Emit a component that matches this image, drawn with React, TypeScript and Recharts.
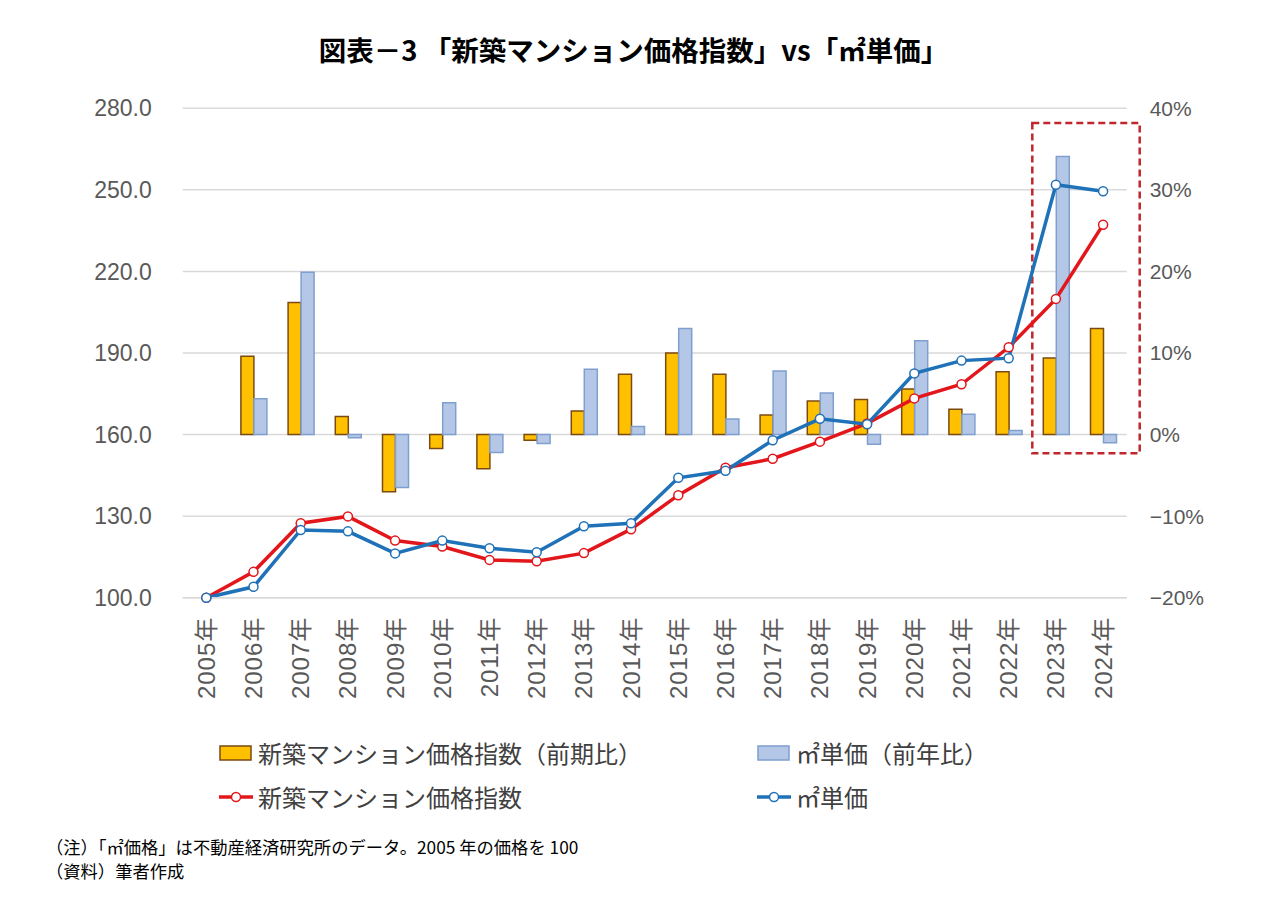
import {
  ComposedChart,
  Bar,
  Line,
  XAxis,
  YAxis,
  CartesianGrid,
  ReferenceArea,
} from "recharts";

// ===== data =====
const years = [
  "2005年", "2006年", "2007年", "2008年", "2009年", "2010年", "2011年",
  "2012年", "2013年", "2014年", "2015年", "2016年", "2017年", "2018年",
  "2019年", "2020年", "2021年", "2022年", "2023年", "2024年",
];

// 新築マンション価格指数 (2005 = 100)
const shinchikuIndex = [
  100, 109.5, 127.4, 129.9, 121.0, 118.8, 113.9, 113.4, 116.4, 125.2,
  137.7, 147.8, 151.1, 157.4, 164.1, 173.3, 178.5, 192.1, 209.9, 237.2,
];

// ㎡単価 (2005 = 100)
const m2Index = [
  100, 104.0, 124.9, 124.4, 116.3, 121.0, 118.2, 116.7, 126.3, 127.4,
  144.1, 146.7, 157.9, 165.8, 163.8, 182.5, 187.2, 188.1, 251.9, 249.5,
];

// 前期比 / 前年比 (%)
const shinchikuYoY = [
  null, 9.6, 16.2, 2.2, -7.0, -1.7, -4.2, -0.7, 2.9, 7.4,
  10.0, 7.4, 2.4, 4.1, 4.3, 5.6, 3.1, 7.7, 9.4, 13.0,
];
const m2YoY = [
  null, 4.4, 19.9, -0.4, -6.5, 3.9, -2.2, -1.1, 8.0, 1.0,
  13.0, 1.9, 7.8, 5.1, -1.2, 11.5, 2.5, 0.5, 34.1, -1.0,
];

const leftTicks = [100, 130, 160, 190, 220, 250, 280];
const rightTicks = [-20, -10, 0, 10, 20, 30, 40];

// highlighted range (2023-2024)
const boxYears = ["2023年", "2024年"];
const boxRange = [-2.3, 38.2];

// ===== styles =====
const YELLOW = "#FFC000";
const YELLOW_EDGE = "#7B4A12";
const LIGHT_BLUE = "#B4C7E7";
const LIGHT_BLUE_EDGE = "#7F9FCF";
const RED = "#E3161B";
const BLUE = "#1F71B8";
const AXIS_TEXT = "#595959";
const NUM_FONT = "'Liberation Sans', 'Noto Sans CJK JP', sans-serif";
const JP_FONT = "'Noto Sans CJK JP', 'Liberation Sans', sans-serif";

const data = years.map((year, i) => ({
  year,
  shinchiku: shinchikuIndex[i],
  m2: m2Index[i],
  shinchikuYoY: shinchikuYoY[i],
  m2YoY: m2YoY[i],
}));

const XTick = ({ x, y, payload }: any) => (
  <text
    x={x}
    y={y}
    transform={`rotate(-90 ${x} ${y})`}
    textAnchor="end"
    dominantBaseline="central"
    fill={AXIS_TEXT}
    fontSize={24}
    letterSpacing={1}
    fontFamily={NUM_FONT}
  >
    {payload.value}
  </text>
);

const fmtPct = (v: number) => (v < 0 ? `−${Math.abs(v)}%` : `${v}%`);

const DashedBox = (p: any) => (
  <rect
    x={p.x}
    y={p.y}
    width={p.width + 13}
    height={p.height}
    fill="none"
    stroke="#C0262B"
    strokeWidth={2.5}
    strokeDasharray="7 4"
  />
);

const LineIcon = ({ color }: { color: string }) => (
  <svg width={36} height={16} style={{ verticalAlign: "middle" }}>
    <line x1={1} y1={8} x2={35} y2={8} stroke={color} strokeWidth={3.5} />
    <circle cx={18} cy={8} r={4.5} fill="#fff" stroke={color} strokeWidth={1.5} />
  </svg>
);

const BoxIcon = ({ fill, edge }: { fill: string; edge: string }) => (
  <svg width={36} height={18} style={{ verticalAlign: "middle" }}>
    <rect x={2} y={2} width={31} height={14} fill={fill} stroke={edge} strokeWidth={1.5} />
  </svg>
);

const legendText: React.CSSProperties = {
  fontFamily: JP_FONT,
  fontSize: 24,
  color: "#404040",
  marginLeft: 4,
  verticalAlign: "middle",
};

export default function App() {
  return (
    <div style={{ position: "relative", width: 1267, height: 920, background: "#fff" }}>
      <style>{"body{margin:0}"}</style>

      <div
        style={{
          position: "absolute",
          left: 0,
          top: 29,
          width: 1267,
          textAlign: "center",
          fontFamily: JP_FONT,
          fontWeight: 700,
          fontSize: 27.5,
          color: "#000",
        }}
      >
        図表－3 「新築マンション価格指数」vs「㎡単価」
      </div>

      <div style={{ position: "absolute", left: 0, top: 0 }}>
        <ComposedChart
          width={1267}
          height={720}
          data={data}
          margin={{ top: 108.3, right: 80.3, left: 100, bottom: 22.3 }}
          barGap={0}
        >
          <CartesianGrid yAxisId="left" vertical={false} stroke="#D9D9D9" strokeWidth={1.5} />
          <XAxis
            dataKey="year"
            interval={0}
            height={100}
            axisLine={{ stroke: "#D9D9D9", strokeWidth: 1.5 }}
            tickLine={false}
            tickSize={0}
            tickMargin={19}
            tick={<XTick />}
          />
          <YAxis
            yAxisId="left"
            orientation="left"
            width={82.7}
            domain={[100, 280]}
            ticks={leftTicks}
            axisLine={false}
            tickLine={false}
            tickSize={0}
            tickMargin={31}
            tickFormatter={(v) => Number(v).toFixed(1)}
            tick={{ fill: AXIS_TEXT, fontSize: 23, fontFamily: NUM_FONT }}
          />
          <YAxis
            yAxisId="right"
            orientation="right"
            width={60}
            domain={[-20, 40]}
            ticks={rightTicks}
            axisLine={false}
            tickLine={false}
            tickSize={0}
            tickMargin={23}
            tickFormatter={(v) => fmtPct(Number(v))}
            tick={{ fill: AXIS_TEXT, fontSize: 21, fontFamily: NUM_FONT }}
          />

          <Bar
            yAxisId="right"
            dataKey="shinchikuYoY"
            barSize={13}
            fill={YELLOW}
            stroke={YELLOW_EDGE}
            strokeWidth={1.5}
            isAnimationActive={false}
          />
          <Bar
            yAxisId="right"
            dataKey="m2YoY"
            barSize={13}
            fill={LIGHT_BLUE}
            stroke={LIGHT_BLUE_EDGE}
            strokeWidth={1.5}
            isAnimationActive={false}
          />

          <ReferenceArea
            yAxisId="right"
            x1={boxYears[0]}
            x2={boxYears[1]}
            y1={boxRange[0]}
            y2={boxRange[1]}
            ifOverflow="visible"
            shape={DashedBox}
          />

          <Line
            yAxisId="left"
            dataKey="shinchiku"
            stroke={RED}
            strokeWidth={3.5}
            dot={{ r: 4.5, fill: "#fff", stroke: RED, strokeWidth: 1.5 }}
            isAnimationActive={false}
          />
          <Line
            yAxisId="left"
            dataKey="m2"
            stroke={BLUE}
            strokeWidth={3.5}
            dot={{ r: 4.5, fill: "#fff", stroke: BLUE, strokeWidth: 1.5 }}
            isAnimationActive={false}
          />
        </ComposedChart>
      </div>

      {/* legend */}
      <div style={{ position: "absolute", left: 218, top: 735, whiteSpace: "nowrap" }}>
        <BoxIcon fill={YELLOW} edge={YELLOW_EDGE} />
        <span style={legendText}>新築マンション価格指数（前期比）</span>
      </div>
      <div style={{ position: "absolute", left: 756, top: 735, whiteSpace: "nowrap" }}>
        <BoxIcon fill={LIGHT_BLUE} edge={LIGHT_BLUE_EDGE} />
        <span style={legendText}>㎡単価（前年比）</span>
      </div>
      <div style={{ position: "absolute", left: 218, top: 779, whiteSpace: "nowrap" }}>
        <LineIcon color={RED} />
        <span style={legendText}>新築マンション価格指数</span>
      </div>
      <div style={{ position: "absolute", left: 756, top: 779, whiteSpace: "nowrap" }}>
        <LineIcon color={BLUE} />
        <span style={legendText}>㎡単価</span>
      </div>

      {/* notes */}
      <div
        style={{
          position: "absolute",
          left: 46,
          top: 835,
          fontFamily: JP_FONT,
          fontSize: 17.3,
          lineHeight: "24px",
          color: "#000",
          whiteSpace: "nowrap",
        }}
      >
        <div>（注）「㎡価格」は不動産経済研究所のデータ。2005 年の価格を 100</div>
        <div>（資料）筆者作成</div>
      </div>
    </div>
  );
}
